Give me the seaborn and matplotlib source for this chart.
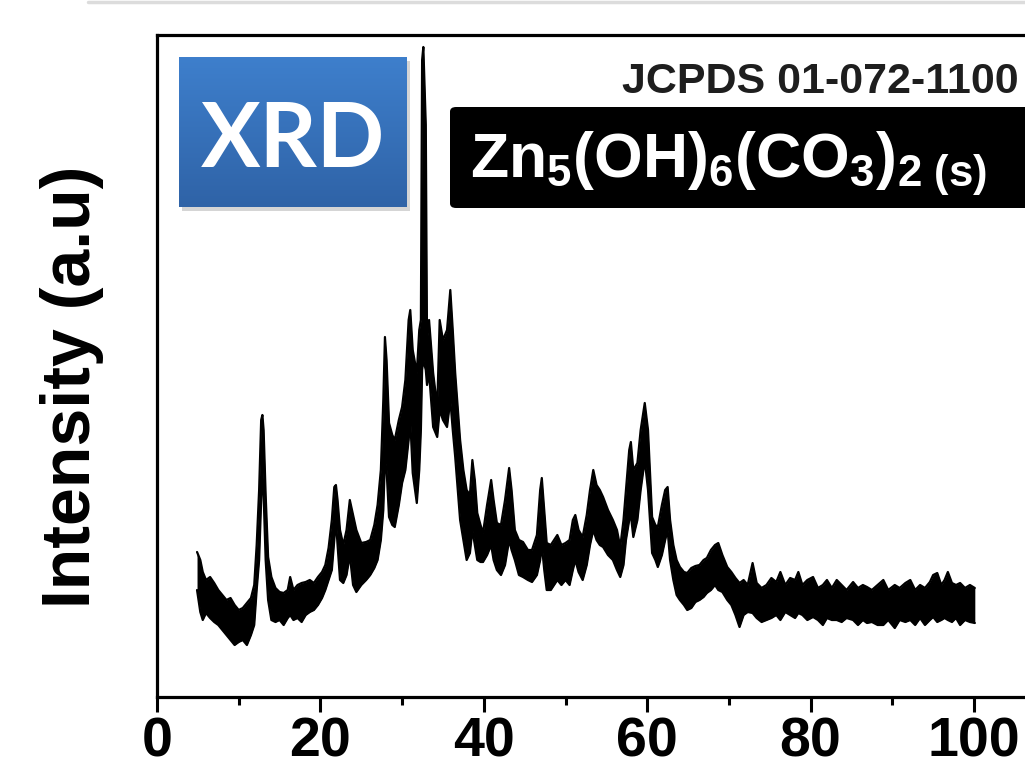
import numpy as np
import pandas as pd
import seaborn as sns
import matplotlib
matplotlib.use("Agg")
import matplotlib.pyplot as plt
from matplotlib.patches import FancyBboxPatch, Rectangle
from matplotlib.lines import Line2D

# ---------------- data ----------------
two_theta = [4.9, 5.3, 5.6, 6.0, 6.5, 7.0, 7.5, 8.0, 8.5, 9.0, 9.5, 10.0, 10.5, 11.0, 11.5, 11.9,
             12.2, 12.5, 12.75, 12.9, 13.05, 13.3, 13.6, 14.0, 14.5, 15.0, 15.5, 16.0, 16.3, 16.7,
             17.2, 17.7, 18.2, 18.7, 19.2, 19.7, 20.2, 20.6, 21.0, 21.4, 21.7, 21.9, 22.1, 22.4,
             22.8, 23.2, 23.6, 24.0, 24.4, 25.0, 25.6, 26.1, 26.6, 27.0, 27.4, 27.7, 27.9, 28.1,
             28.4, 28.8, 29.1, 29.6, 30.0, 30.4, 30.8, 31.0, 31.3, 31.8, 32.1, 32.3, 32.45, 32.6,
             32.9, 33.05, 33.3, 33.8, 34.3, 34.6, 35.0, 35.5, 35.9, 36.2, 36.5, 37.1, 37.5, 37.9,
             38.3, 38.6, 38.9, 39.2, 39.6, 39.9, 40.4, 40.9, 41.2, 41.6, 42.1, 42.6, 43.1, 43.4,
             43.8, 44.3, 44.8, 45.4, 45.9, 46.5, 46.9, 47.1, 47.4, 47.7, 48.2, 48.6, 49.0, 49.5,
             50.0, 50.5, 50.9, 51.2, 51.6, 52.1, 52.6, 53.0, 53.4, 53.8, 54.2, 54.6, 55.2, 55.8,
             56.3, 56.7, 57.1, 57.4, 57.8, 58.0, 58.3, 58.8, 59.2, 59.7, 60.1, 60.6, 61.0, 61.3,
             61.8, 62.2, 62.5, 62.8, 63.2, 63.6, 64.0, 64.5, 64.9, 65.4, 65.9, 66.4, 66.9, 67.3,
             67.8, 68.3, 68.7, 69.2, 69.8, 70.3, 70.8, 71.3, 71.8, 72.3, 72.9, 73.4, 74.0, 74.6,
             75.2, 75.8, 76.3, 76.9, 77.5, 78.1, 78.5, 79.0, 79.6, 80.3, 80.9, 81.5, 82.0, 82.6,
             83.2, 83.8, 84.4, 85.2, 85.8, 86.4, 86.9, 87.5, 88.2, 88.9, 89.5, 90.3, 90.9, 91.6,
             92.2, 92.8, 93.4, 94.0, 94.6, 95.0, 95.5, 96.0, 96.4, 96.8, 97.3, 97.8, 98.3, 98.9,
             99.5, 100.1]

# upper edge of the noisy trace (a.u.)
intensity_high = [148, 140, 128, 120, 123, 117, 110, 105, 100, 102, 95, 90, 92, 97, 102, 115,
                  155, 210, 280, 285, 270, 205, 143, 123, 112, 108, 107, 110, 123, 110,
                  115, 117, 118, 120, 117, 123, 128, 135, 152, 180, 213, 215, 200, 170,
                  155, 170, 200, 185, 170, 157, 158, 160, 175, 195, 230, 300, 363, 340,
                  277, 265, 260, 280, 293, 320, 380, 390, 350, 327, 370, 380, 640, 653,
                  575, 360, 380, 327, 293, 380, 360, 370, 410, 370, 327, 260, 230, 210,
                  205, 240, 220, 187, 175, 167, 195, 220, 200, 177, 175, 200, 232, 210,
                  170, 160, 158, 150, 150, 165, 210, 222, 190, 157, 155, 160, 165, 155,
                  157, 160, 180, 185, 170, 163, 185, 210, 230, 215, 210, 203, 190, 180,
                  170, 153, 180, 210, 250, 258, 230, 237, 270, 297, 270, 183, 175, 173,
                  195, 210, 213, 180, 155, 140, 133, 128, 127, 132, 134, 135, 140, 142,
                  150, 155, 157, 145, 133, 128, 122, 117, 120, 115, 137, 117, 112, 115,
                  122, 118, 128, 115, 122, 120, 128, 115, 120, 123, 112, 115, 120, 112,
                  120, 115, 110, 118, 112, 115, 113, 110, 115, 120, 110, 115, 112, 117,
                  120, 110, 115, 112, 118, 125, 127, 115, 120, 128, 117, 115, 117, 112,
                  115, 112]

# lower edge of the noisy trace (a.u.)
intensity_low = [110, 88, 80, 87, 82, 78, 75, 70, 65, 60, 55, 58, 60, 55, 65, 75,
                 110, 140, 200, 230, 205, 140, 100, 80, 78, 80, 75, 82, 85, 80,
                 82, 78, 85, 88, 90, 95, 102, 110, 120, 130, 160, 180, 155, 120,
                 117, 125, 145, 115, 108, 115, 120, 125, 132, 140, 160, 190, 240, 230,
                 183, 175, 173, 195, 217, 230, 260, 280, 227, 197, 230, 270, 330, 340,
                 330, 315, 327, 273, 263, 290, 280, 273, 300, 270, 243, 180, 160, 140,
                 147, 170, 155, 140, 138, 138, 145, 155, 140, 130, 125, 135, 160, 150,
                 140, 125, 123, 120, 118, 125, 140, 155, 130, 110, 110, 115, 120, 115,
                 120, 115, 130, 140, 128, 120, 135, 155, 170, 160, 155, 153, 145, 140,
                 130, 123, 135, 160, 180, 185, 163, 180, 210, 240, 210, 147, 140, 133,
                 145, 160, 170, 140, 120, 105, 100, 95, 90, 92, 98, 100, 103, 107,
                 110, 115, 110, 108, 100, 95, 85, 73, 85, 88, 87, 82, 78, 80,
                 82, 85, 80, 88, 85, 82, 87, 85, 80, 83, 80, 75, 82, 80,
                 80, 78, 82, 80, 75, 80, 77, 78, 75, 75, 80, 72, 80, 78,
                 80, 75, 82, 75, 80, 83, 78, 80, 82, 80, 78, 82, 75, 80,
                 78, 77]

x_ticks = [0, 20, 40, 60, 80, 100]
x_minor_ticks = [10, 30, 50, 70, 90]
y_label = "Intensity (a.u)"
badge_text = "XRD"
card_text = "JCPDS 01-072-1100"
phase_text = r"$\mathbf{Zn_5(OH)_6(CO_3)_{2\ (s)}}$"

df = pd.DataFrame({"two_theta": two_theta, "high": intensity_high, "low": intensity_low})

# ---------------- style ----------------
sns.set_style("white")

plt.rcParams["font.family"] = ["Liberation Sans", "DejaVu Sans"]
plt.rcParams["text.color"] = "black"
plt.rcParams["axes.labelcolor"] = "black"
plt.rcParams["xtick.color"] = "black"
plt.rcParams["xtick.labelcolor"] = "black"
plt.rcParams["mathtext.fontset"] = "custom"
plt.rcParams["mathtext.bf"] = "Liberation Sans:bold"
plt.rcParams["mathtext.rm"] = "Liberation Sans"
plt.rcParams["mathtext.it"] = "Liberation Sans:italic"

W, H = 1025, 771
fig = plt.figure(figsize=(W / 100, H / 100), dpi=100)
fig.patch.set_facecolor("white")

ax = fig.add_axes([157 / W, 1 - 697 / H, 1 - 157 / W, (697 - 34.5) / H])

ax.fill_between(df["two_theta"], df["low"], df["high"], color="black", linewidth=0)
sns.lineplot(data=df, x="two_theta", y="high", ax=ax, color="black", linewidth=1.6)
sns.lineplot(data=df, x="two_theta", y="low", ax=ax, color="black", linewidth=1.6)

ax.set_xlim(0, (W - 157) / 8.17)
ax.set_ylim(3, 665.5)
ax.set_xticks(x_ticks)
ax.set_xticks(x_minor_ticks, minor=True)
ax.set_xticklabels([str(t) for t in x_ticks], fontweight="bold", fontsize=40, color="black")
ax.set_yticks([])
ax.set_xlabel("")
ax.tick_params(axis="x", which="major", direction="out", length=11, width=2.2, pad=3,
               bottom=True, color="black")
ax.tick_params(axis="x", which="minor", direction="out", length=6, width=2.2, bottom=True,
               color="black")

for side in ["left", "bottom", "top"]:
    ax.spines[side].set_linewidth(2.3)
    ax.spines[side].set_color("black")
ax.spines["right"].set_visible(False)

ax.set_ylabel(y_label, fontsize=49, fontweight="bold", va="center", color="black")
ax.yaxis.set_label_coords(-0.098, 0.468)

# faint shadow line at the very top of the picture
fig.add_artist(Line2D([88 / W, 1.0], [1 - 1.5 / H, 1 - 1.5 / H], color="#dcdcdc", linewidth=2.5))

# XRD badge with vertical blue gradient and soft shadow
bx0, by0, bx1, by1 = 179, 57, 407, 207
shadow = Rectangle((bx0 / W + 3 / W, 1 - (by1 + 4) / H), (bx1 - bx0) / W, (by1 - by0) / H,
                   transform=fig.transFigure, facecolor="#c4c4c4", edgecolor="none", alpha=0.7,
                   zorder=1)
fig.add_artist(shadow)
bax = fig.add_axes([bx0 / W, 1 - by1 / H, (bx1 - bx0) / W, (by1 - by0) / H])
bax.set_zorder(4)
grad = np.linspace(0, 1, 100).reshape(-1, 1)
cmap = matplotlib.colors.LinearSegmentedColormap.from_list("blue", ["#3e7fcc", "#2f63a7"])
bax.imshow(grad, aspect="auto", cmap=cmap, extent=[0, 1, 0, 1], origin="upper",
           interpolation="bilinear")
bax.set_axis_off()
bax.text(0.5, (by1 - 167) / (by1 - by0), badge_text, color="white", fontsize=64,
         fontfamily=["Lato", "Liberation Sans", "DejaVu Sans"], fontweight="bold",
         ha="center", va="baseline", transform=bax.transAxes)

# reference card text
fig.text(622 / W, 1 - 82 / H, card_text, color="#1e1e1e", fontsize=31, fontweight="bold",
         ha="left", va="center")

# black phase label box
fig.add_artist(FancyBboxPatch((450 / W, 1 - 208 / H), 700 / W, 101 / H,
                              boxstyle="round,pad=0,rounding_size=0.006",
                              transform=fig.transFigure, facecolor="black", edgecolor="none",
                              zorder=2))
fig.text(470 / W, 1 - 164 / H, phase_text, color="white", fontsize=45, ha="left", va="center",
         zorder=5)

fig.savefig("out.png", dpi=100)
